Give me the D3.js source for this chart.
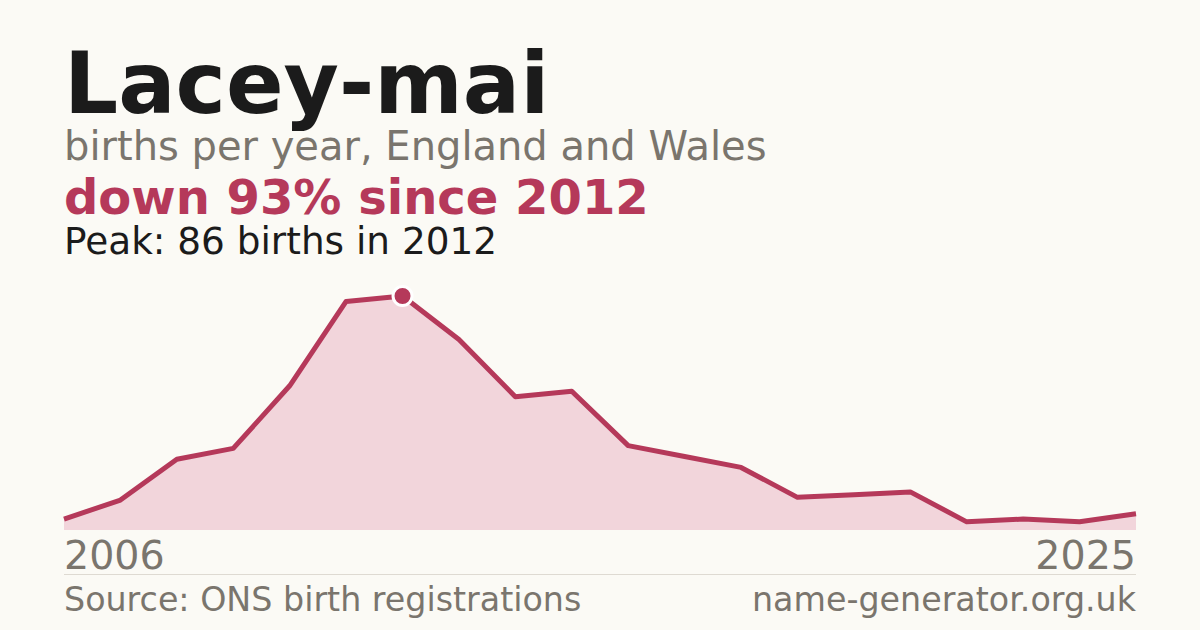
<!DOCTYPE html>
<html>
<head>
<meta charset="utf-8">
<script src="https://cdn.jsdelivr.net/npm/d3@7"></script>
<style>
  html, body { margin: 0; padding: 0; background: #fbfaf5; }
  svg { display: block; font-family: "DejaVu Sans", sans-serif; }
</style>
</head>
<body>
<svg width="1200" height="630"></svg>
<script>
"use strict";

const years = [2006, 2007, 2008, 2009, 2010, 2011, 2012, 2013, 2014, 2015,
               2016, 2017, 2018, 2019, 2020, 2021, 2022, 2023, 2024, 2025];
const births = [4, 11, 26, 30, 53, 84, 86, 70, 49, 51,
                31, 27, 23, 12, 13, 14, 3, 4, 3, 6];
const tickYears = [2006, 2025];

const red = "#b5395a";
const grey = "#7a756d";

const svg = d3.select("svg");

const x = d3.scaleLinear()
  .domain(d3.extent(years))
  .range([64, 1136]);

const y = d3.scaleLinear()
  .domain([0, d3.max(births)])
  .range([530, 296]);

const pts = years.map((yr, i) => ({ year: yr, value: births[i] }));

// headings
svg.append("text").attr("x", 64).attr("y", 113)
  .style("font-size", "85px").style("font-weight", "bold").style("fill", "#1b1b1b")
  .text("Lacey-mai");
svg.append("text").attr("x", 64).attr("y", 160)
  .style("font-size", "40px").style("fill", grey)
  .text("births per year, England and Wales");
svg.append("text").attr("x", 64).attr("y", 214)
  .style("font-size", "48px").style("font-weight", "bold").style("fill", red)
  .text("down 93% since 2012");
svg.append("text").attr("x", 64).attr("y", 254)
  .style("font-size", "37.4px").style("fill", "#1b1b1b")
  .text("Peak: 86 births in 2012");

// area + line
const area = d3.area()
  .x(d => x(d.year))
  .y0(y(0))
  .y1(d => y(d.value));

const line = d3.line()
  .x(d => x(d.year))
  .y(d => y(d.value));

svg.append("path")
  .datum(pts)
  .attr("d", area)
  .style("fill", "#f2d5db");

svg.append("path")
  .datum(pts)
  .attr("d", line)
  .style("fill", "none")
  .style("stroke", red)
  .style("stroke-width", 5)
  .style("stroke-linejoin", "round");

// peak marker
const peak = pts[d3.maxIndex(pts, d => d.value)];
svg.append("circle")
  .attr("cx", x(peak.year))
  .attr("cy", y(peak.value))
  .attr("r", 9.5)
  .style("fill", red)
  .style("stroke", "#fff")
  .style("stroke-width", 3);

// x labels
svg.selectAll(".tick-label")
  .data(tickYears)
  .enter()
  .append("text")
  .attr("class", "tick-label")
  .attr("x", d => x(d))
  .attr("y", 569)
  .attr("text-anchor", (d, i) => i === 0 ? "start" : "end")
  .style("font-size", "39.6px")
  .style("fill", grey)
  .text(d => d);

// separator
svg.append("line")
  .attr("x1", 64).attr("x2", 1136)
  .attr("y1", 574.5).attr("y2", 574.5)
  .style("stroke", "#dedad2")
  .style("stroke-width", 1);

// footer
svg.append("text").attr("x", 64).attr("y", 611)
  .style("font-size", "33.3px").style("fill", grey)
  .text("Source: ONS birth registrations");
svg.append("text").attr("x", 1136).attr("y", 611)
  .attr("text-anchor", "end")
  .style("font-size", "33.3px").style("fill", grey)
  .text("name-generator.org.uk");
</script>
</body>
</html>
